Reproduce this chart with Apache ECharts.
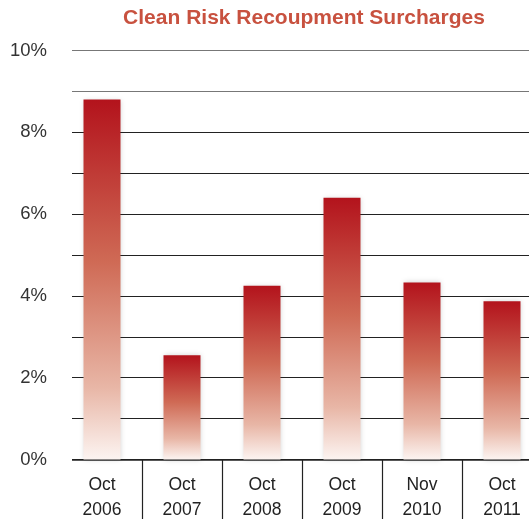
<!DOCTYPE html>
<html>
<head>
<meta charset="utf-8">
<script src="https://cdn.jsdelivr.net/npm/echarts@6/dist/echarts.min.js"></script>
<style>
html, body { margin: 0; padding: 0; background: #fff; }
#chart { width: 529px; height: 519px; }
</style>
</head>
<body>
<div id="chart"></div>
<script>
const categories = ['Oct\n2006', 'Oct\n2007', 'Oct\n2008', 'Oct\n2009', 'Nov\n2010', 'Oct\n2011']
const surcharges = [8.8, 2.55, 4.25, 6.4, 4.33, 3.87]
const yTickLabels = ['0%', '', '2%', '', '4%', '', '6%', '', '8%', '', '10%']

let chart = echarts.init(document.getElementById('chart'))
chart.setOption({
    animation: false,
    title: {
        text: 'Clean Risk Recoupment Surcharges',
        left: 299,
        textAlign: 'center',
        top: 3,
        textStyle: {
            color: '#c8513f',
            fontSize: 21,
            fontWeight: 'bold',
            fontFamily: 'Liberation Sans'
        }
    },
    grid: {
        left: 62,
        width: 480,
        top: 50.5,
        bottom: 59.5,
        outerBoundsMode: 'none'
    },
    xAxis: {
        type: 'category',
        data: categories,
        axisLine: { lineStyle: { color: '#222', width: 1.5 } },
        axisTick: { show: true, length: 62, lineStyle: { color: '#222', width: 1.2 } },
        axisLabel: {
            color: '#222',
            fontSize: 17.5,
            lineHeight: 25,
            margin: 13,
            fontFamily: 'Liberation Sans'
        }
    },
    yAxis: {
        type: 'value',
        min: 0,
        max: 10,
        interval: 1,
        axisLine: { show: false },
        axisTick: { show: false },
        axisLabel: {
            color: '#333',
            fontSize: 18.5,
            margin: 15,
            fontFamily: 'Liberation Sans',
            formatter: (v) => yTickLabels[Math.round(v)]
        },
        splitLine: {
            lineStyle: {
                color: ['#222', '#222', '#222', '#222', '#222', '#222', '#222', '#222', '#222', '#777', '#777'],
                width: 1.2
            }
        }
    },
    series: [
        {
            type: 'bar',
            data: surcharges,
            barWidth: 37,
            itemStyle: {
                color: new echarts.graphic.LinearGradient(0, 0, 0, 1, [
                    { offset: 0, color: '#b3131c' },
                    { offset: 0.45, color: '#cf6a55' },
                    { offset: 0.8, color: '#e8b6a6' },
                    { offset: 1, color: '#fcf4f1' }
                ]),
                shadowBlur: 5,
                shadowColor: 'rgba(0,0,0,0.18)'
            }
        }
    ],
    graphic: [
        {
            type: 'rect',
            z: 100,
            shape: { x: 55, y: 40, width: 17, height: 480 },
            style: { fill: '#fff' }
        }
    ]
})
</script>
</body>
</html>
